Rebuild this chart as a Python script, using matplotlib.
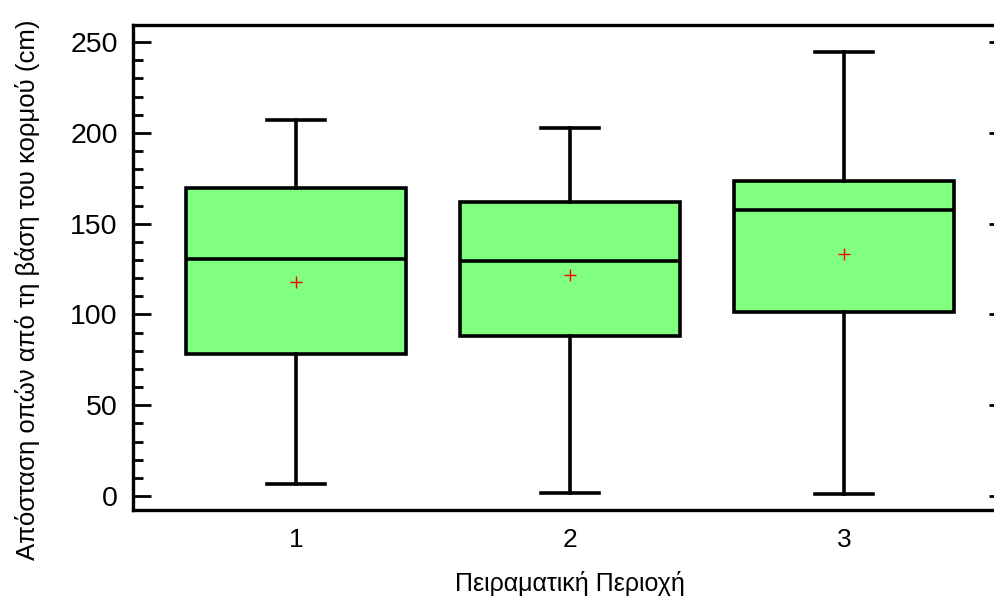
import matplotlib
matplotlib.use('Agg')
from matplotlib import pyplot as plt
from matplotlib.ticker import MultipleLocator

# Box statistics
regions = ['1', '2', '3']
whisker_low = [6.6, 1.7, 1.1]
q1 = [78.0, 88.0, 101.3]
medians = [130.5, 129.4, 157.5]
q3 = [169.6, 162.0, 173.5]
whisker_high = [207.0, 202.6, 244.5]
means = [117.8, 121.7, 133.3]

plt.rcParams['font.family'] = ['Liberation Sans', 'DejaVu Sans']

fig = plt.figure(figsize=(9.95, 5.98), dpi=100)
ax = fig.add_axes([0.1337, 0.1472, 1.012 - 0.1337, 0.958 - 0.1472])

stats = []
for i, lab in enumerate(regions):
    stats.append({'label': lab, 'whislo': whisker_low[i], 'q1': q1[i],
                  'med': medians[i], 'q3': q3[i], 'whishi': whisker_high[i],
                  'mean': means[i], 'fliers': []})

lw = 2.6
ax.bxp(stats, positions=[1, 2, 3], widths=0.8, patch_artist=True,
       showmeans=True, showfliers=False,
       boxprops=dict(facecolor='#80FF80', edgecolor='black', linewidth=lw),
       medianprops=dict(color='black', linewidth=lw),
       whiskerprops=dict(color='black', linewidth=lw),
       capprops=dict(color='black', linewidth=lw),
       capwidths=0.21,
       meanprops=dict(marker='+', markeredgecolor='red', markersize=9,
                      markeredgewidth=1.0))

ax.set_xlim(0.405, 3.595)
ax.set_ylim(-7.7, 259.4)
ax.yaxis.set_major_locator(MultipleLocator(50))
ax.yaxis.set_minor_locator(MultipleLocator(10))

for s in ax.spines.values():
    s.set_linewidth(2.4)

ax.tick_params(axis='y', which='major', direction='in', length=13, width=2,
               labelsize=20.5, right=True, pad=11)
ax.tick_params(axis='y', which='minor', direction='in', length=7, width=2)
ax.tick_params(axis='x', length=0, labelsize=19, pad=13)

ax.set_ylabel('Απόσταση οπών από τη βάση του κορμού (cm)', fontsize=18.5)
ax.yaxis.set_label_coords(-0.106, 0.454)
ax.set_xlabel('Πειραματική Περιοχή', fontsize=18, labelpad=14)

fig.savefig('out.png', dpi=100)
